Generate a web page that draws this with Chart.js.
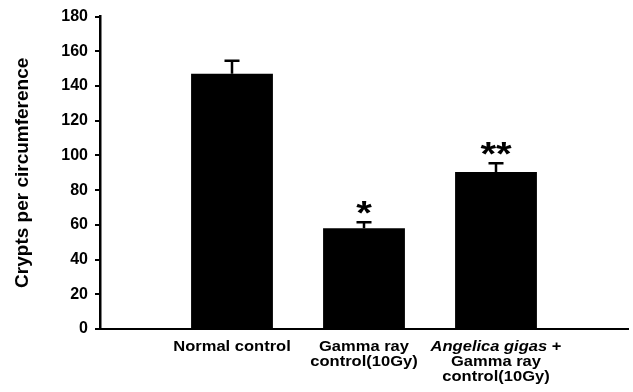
<!DOCTYPE html>
<html>
<head>
<meta charset="utf-8">
<script src="https://cdn.jsdelivr.net/npm/chart.js@4.4.1/dist/chart.umd.min.js"></script>
<style>
  html, body { margin: 0; padding: 0; background: #ffffff; }
  #wrap { width: 633px; height: 392px; position: relative; }
</style>
</head>
<body>
<div id="wrap"><canvas id="c" width="633" height="392"></canvas></div>
<script>
// ---- data ----
const categories = [
  ['Normal control'],
  ['Gamma ray', 'control(10Gy)'],
  ['Angelica gigas +', 'Gamma ray', 'control(10Gy)']
];
const italicTerms = ['Angelica gigas'];
const values = [147, 58, 90.5];
const errors = [7.5, 3.5, 5];
const significance = ['', '*', '**'];
const yTicks = [0, 20, 40, 60, 80, 100, 120, 140, 160, 180];
const yTitle = 'Crypts per circumference';

const FONT = '"Liberation Sans", Arial, Helvetica, sans-serif';
const STRETCH = 1.18;

const points = values.map((v, i) => ({ x: i + 1, y: v }));

const errorBarPlugin = {
  id: 'errorBars',
  afterDatasetsDraw(chart) {
    const ctx = chart.ctx;
    const xs = chart.scales.x, ys = chart.scales.y;
    ctx.save();
    ctx.strokeStyle = '#000';
    ctx.fillStyle = '#000';
    ctx.lineWidth = 2.5;
    values.forEach((v, i) => {
      const x = xs.getPixelForValue(i + 1);
      const yTop = ys.getPixelForValue(v + errors[i]);
      const yBar = ys.getPixelForValue(v);
      ctx.beginPath();
      ctx.moveTo(x, yBar);
      ctx.lineTo(x, yTop);
      ctx.moveTo(x - 7.5, yTop);
      ctx.lineTo(x + 7.5, yTop);
      ctx.stroke();
      if (significance[i]) {
        const size = 34;
        ctx.save();
        ctx.font = 'bold ' + size + 'px ' + FONT;
        ctx.textAlign = 'center';
        ctx.textBaseline = 'alphabetic';
        ctx.translate(x, yTop - 18 + 0.57 * size);
        ctx.scale(STRETCH, 1);
        ctx.fillText(significance[i], 0, 0);
        ctx.restore();
      }
    });
    ctx.restore();
  }
};

const xLabelPlugin = {
  id: 'xLabels',
  afterDraw(chart) {
    const ctx = chart.ctx;
    const xs = chart.scales.x;
    const base = chart.chartArea.bottom;
    const bold = 'bold 14px ' + FONT;
    const boldItalic = 'italic bold 14px ' + FONT;
    ctx.save();
    ctx.fillStyle = '#000';
    ctx.textBaseline = 'alphabetic';
    ctx.textAlign = 'left';
    categories.forEach((lines, i) => {
      const cx = xs.getPixelForValue(i + 1);
      lines.forEach((line, j) => {
        let segs = [{ t: line, it: false }];
        italicTerms.forEach(term => {
          const out = [];
          segs.forEach(s => {
            if (s.it || s.t.indexOf(term) < 0) { out.push(s); return; }
            const parts = s.t.split(term);
            parts.forEach((p, k) => {
              if (p) out.push({ t: p, it: false });
              if (k < parts.length - 1) out.push({ t: term, it: true });
            });
          });
          segs = out;
        });
        let total = 0;
        segs.forEach(s => {
          ctx.font = s.it ? boldItalic : bold;
          s.w = ctx.measureText(s.t).width;
          total += s.w;
        });
        const y = base + 22 + j * 15;
        ctx.save();
        ctx.translate(cx, y);
        ctx.scale(STRETCH, 1);
        let x = -total / 2;
        segs.forEach(s => {
          ctx.font = s.it ? boldItalic : bold;
          ctx.fillText(s.t, x, 0);
          x += s.w;
        });
        ctx.restore();
      });
    });
    ctx.restore();
  }
};

new Chart(document.getElementById('c'), {
  type: 'bar',
  data: {
    datasets: [{
      data: points,
      backgroundColor: '#000000',
      borderWidth: 0,
      barPercentage: 0.62,
      categoryPercentage: 1.0
    }]
  },
  options: {
    responsive: false,
    animation: false,
    events: [],
    layout: { padding: { top: 15, right: 5, left: 0, bottom: 0 } },
    plugins: { legend: { display: false }, tooltip: { enabled: false } },
    scales: {
      x: {
        type: 'linear',
        min: 0,
        max: 4,
        offset: false,
        grid: { display: false },
        border: { display: true, color: '#000', width: 2 },
        ticks: { display: false, stepSize: 1 },
        afterFit(scale) { scale.height = 63; }
      },
      y: {
        min: 0,
        max: 180,
        afterBuildTicks(scale) { scale.ticks = yTicks.map(v => ({ value: v })); },
        ticks: {
          color: '#000',
          font: { family: FONT, size: 16, weight: 'bold' },
          padding: 7
        },
        grid: {
          display: true,
          drawOnChartArea: false,
          drawTicks: true,
          tickLength: 5,
          color: '#000',
          lineWidth: 2
        },
        border: { display: true, color: '#000', width: 2.5 },
        title: {
          display: true,
          text: yTitle,
          color: '#000',
          font: { family: FONT, size: 19, weight: 'bold' },
          padding: { top: 11, bottom: 0 }
        },
        afterFit(scale) { scale.width = 100; }
      }
    }
  },
  plugins: [errorBarPlugin, xLabelPlugin]
});
</script>
</body>
</html>
